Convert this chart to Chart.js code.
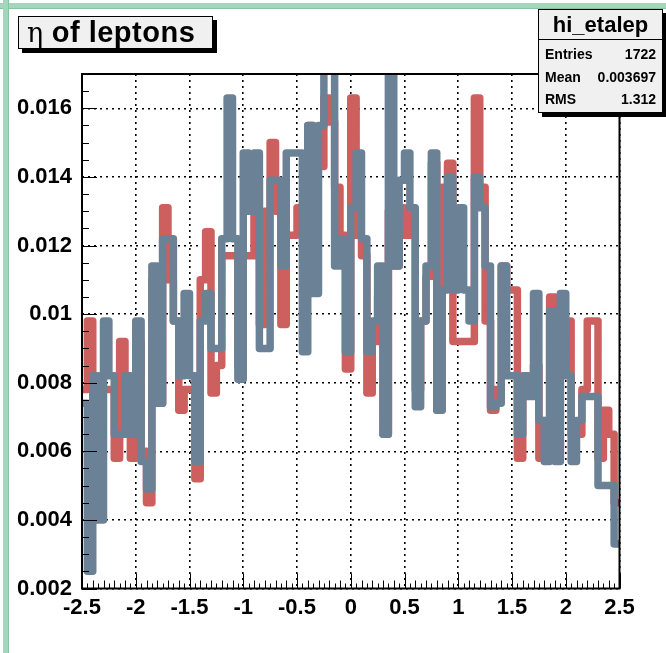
<!DOCTYPE html>
<html>
<head>
<meta charset="utf-8">
<script src="https://cdn.jsdelivr.net/npm/chart.js@4.4.0/dist/chart.umd.min.js"></script>
<style>
  html, body { margin: 0; padding: 0; background: #fff; }
  #wrap { position: relative; width: 666px; height: 653px; overflow: hidden; background: #fff; }
  #c { position: absolute; left: 0; top: 0; }
  .edge-top { position: absolute; left: 0; top: 3px; width: 666px; height: 5px; background: #a3d6ba; border-bottom: 1px solid #86c4a2; }
  .edge-left { position: absolute; left: 3px; top: 0; width: 5px; height: 653px; background: #a3d6ba; border-right: 1px solid #86c4a2; }
  .title-box {
    position: absolute; left: 18px; top: 16px; width: 195px; height: 33px; box-sizing: border-box;
    background: #f0f0f0; border: 1px solid #000; box-shadow: 4px 4px 0 #000;
    font: bold 29px "Liberation Sans", Arial, sans-serif; line-height: 30px; padding-left: 8px; color: #000;
    white-space: nowrap; letter-spacing: 0.5px;
  }
  .title-box .greek { font-family: "DejaVu Serif", "Liberation Serif", serif; font-weight: normal; font-size: 27px; letter-spacing: 0; }
  .stats-box {
    position: absolute; left: 538px; top: 9px; width: 125px; height: 104px; box-sizing: border-box;
    background: #f0f0f0; border: 1px solid #000; box-shadow: 4px 4px 0 #000;
    font-family: "Liberation Sans", Arial, sans-serif; color: #000;
  }
  .stats-head { height: 29px; border-bottom: 1px solid #000; text-align: center; font: bold 22px "Liberation Sans", Arial, sans-serif; line-height: 30px; }
  .stats-row { display: flex; justify-content: space-between; padding: 0 6px 0 6px; font: bold 14px "Liberation Sans", Arial, sans-serif; height: 22.5px; line-height: 22.5px; }
</style>
</head>
<body>
<div id="wrap">
  <canvas id="c" width="666" height="653"></canvas>
  <div class="edge-top"></div>
  <div class="edge-left"></div>
  <div class="title-box"><span class="greek">η</span> of leptons</div>
  <div class="stats-box">
    <div class="stats-head">hi_etalep</div>
    <div class="stats-row" style="margin-top:3px"><span>Entries</span><span>1722</span></div>
    <div class="stats-row"><span>Mean</span><span>0.003697</span></div>
    <div class="stats-row"><span>RMS</span><span>1.312</span></div>
  </div>
</div>
<script>
// Histogram binning: 100 bins of eta between -2.5 and 2.5
const etaLow = -2.5;
const etaHigh = 2.5;
const nBins = 100;

// Normalised bin contents, one entry per eta bin (left to right)
const etaLepA = [
  0.0074, 0.0025, 0.0082, 0.0040, 0.0098, 0.0082, 0.0065, 0.0065, 0.0082, 0.0065,
  0.0098, 0.0057, 0.0049, 0.0114, 0.0074, 0.0122, 0.0122, 0.0098, 0.0082, 0.0106,
  0.0082, 0.0057, 0.0098, 0.0106, 0.0090, 0.0090, 0.0122, 0.0163, 0.0122, 0.0081,
  0.0147, 0.0130, 0.0147, 0.0090, 0.0090, 0.0139, 0.0139, 0.0114, 0.0147, 0.0147,
  0.0147, 0.0089, 0.0155, 0.0106, 0.0155, 0.0180, 0.0176, 0.0114, 0.0122, 0.0089,
  0.0131, 0.0147, 0.0122, 0.0089, 0.0098, 0.0114, 0.0065, 0.0178, 0.0114, 0.0139,
  0.0147, 0.0131, 0.0073, 0.0098, 0.0114, 0.0147, 0.0072, 0.0107, 0.0140, 0.0107,
  0.0131, 0.0107, 0.0098, 0.0140, 0.0131, 0.0114, 0.0073, 0.0074, 0.0114, 0.0082,
  0.0082, 0.0065, 0.0082, 0.0076, 0.0106, 0.0069, 0.0057, 0.0101, 0.0057, 0.0106,
  0.0082, 0.0057, 0.0069, 0.0076, 0.0076, 0.0076, 0.0050, 0.0050, 0.0050, 0.0033
];
const etaLepB = [
  0.0078, 0.0098, 0.0078, 0.0078, 0.0078, 0.0078, 0.0058, 0.0092, 0.0065, 0.0058,
  0.0092, 0.0060, 0.0045, 0.0110, 0.0074, 0.0131, 0.0110, 0.0098, 0.0072, 0.0078,
  0.0078, 0.0052, 0.0110, 0.0124, 0.0077, 0.0085, 0.0117, 0.0117, 0.0117, 0.0085,
  0.0117, 0.0117, 0.0139, 0.0097, 0.0130, 0.0150, 0.0130, 0.0097, 0.0123, 0.0123,
  0.0131, 0.0123, 0.0155, 0.0143, 0.0143, 0.0163, 0.0156, 0.0137, 0.0123, 0.0084,
  0.0163, 0.0123, 0.0117, 0.0077, 0.0092, 0.0105, 0.0065, 0.0130, 0.0114, 0.0131,
  0.0123, 0.0129, 0.0078, 0.0098, 0.0111, 0.0144, 0.0072, 0.0137, 0.0144, 0.0092,
  0.0092, 0.0092, 0.0092, 0.0163, 0.0137, 0.0098, 0.0072, 0.0078, 0.0114, 0.0107,
  0.0107, 0.0058, 0.0078, 0.0078, 0.0085, 0.0058, 0.0069, 0.0105, 0.0058, 0.0090,
  0.0098, 0.0065, 0.0065, 0.0078, 0.0098, 0.0098, 0.0058, 0.0072, 0.0065, 0.0045
];

// Axis ticks
const xTickValues = [-2.5, -2, -1.5, -1, -0.5, 0, 0.5, 1, 1.5, 2, 2.5];
const xTickLabels = ['-2.5', '-2', '-1.5', '-1', '-0.5', '0', '0.5', '1', '1.5', '2', '2.5'];
const yTickValues = [0.002, 0.004, 0.006, 0.008, 0.010, 0.012, 0.014, 0.016];
const yTickLabels = ['0.002', '0.004', '0.006', '0.008', '0.01', '0.012', '0.014', '0.016'];
const yMin = 0.002;
const yMax = 0.017;

// Step outline: one point per bin low edge, plus the upper edge of the last bin
function histPoints(contents) {
  const w = (etaHigh - etaLow) / nBins;
  const pts = contents.map((v, i) => ({ x: etaLow + i * w, y: v }));
  pts.push({ x: etaHigh, y: contents[contents.length - 1] });
  return pts;
}

const tickFont = { family: '"Liberation Sans", Arial, sans-serif', size: 22, weight: 'bold' };

// Frame around the pad plus inward major/minor tick marks (ROOT style)
const frameTicks = {
  id: 'frameTicks',
  afterDatasetsDraw(chart) {
    const { ctx, chartArea: a, scales: { x, y } } = chart;
    ctx.save();
    ctx.strokeStyle = '#000';
    ctx.lineWidth = 1;
    ctx.beginPath();
    for (let k = 0; k <= 100; k++) {
      const v = etaLow + k * 0.05;
      const px = Math.round(x.getPixelForValue(v)) + 0.5;
      const len = (k % 10 === 0) ? 15 : (k % 2 === 0 ? 8 : 5);
      ctx.moveTo(px, a.bottom);
      ctx.lineTo(px, a.bottom - len);
    }
    for (let k = 0; k <= 30; k++) {
      const v = yMin + k * 0.0005;
      const py = Math.round(y.getPixelForValue(v)) + 0.5;
      const len = (k % 4 === 0) ? 15 : 7;
      ctx.moveTo(a.left, py);
      ctx.lineTo(a.left + len, py);
    }
    ctx.stroke();
    ctx.lineWidth = 2;
    ctx.strokeRect(a.left, a.top, a.right - a.left, a.bottom - a.top);
    ctx.restore();
  }
};

const lineStyle = {
  borderWidth: 7.5,
  stepped: 'before',
  pointRadius: 0,
  fill: false,
  clip: 0,
  borderCapStyle: 'round',
  borderJoinStyle: 'round'
};

new Chart(document.getElementById('c'), {
  type: 'line',
  data: {
    datasets: [
      Object.assign({ label: 'etaLepA', data: histPoints(etaLepA), borderColor: '#6b8296', order: 0 }, lineStyle),
      Object.assign({ label: 'etaLepB', data: histPoints(etaLepB), borderColor: '#cd5f5f', order: 1 }, lineStyle)
    ]
  },
  options: {
    responsive: false,
    animation: false,
    devicePixelRatio: 1,
    parsing: false,
    layout: { padding: { left: 0, top: 74, right: 46.5, bottom: 0 } },
    plugins: { legend: { display: false }, tooltip: { enabled: false }, title: { display: false } },
    scales: {
      x: {
        type: 'linear',
        min: etaLow,
        max: etaHigh,
        afterBuildTicks: s => { s.ticks = xTickValues.map(v => ({ value: v })); },
        afterFit: s => { s.height = 64.5; },
        ticks: {
          autoSkip: false, maxRotation: 0, color: '#000', font: tickFont, padding: 6,
          callback: (v, i) => xTickLabels[i]
        },
        grid: { color: '#000', lineWidth: 1.6, drawTicks: false },
        border: { display: false, dash: [2, 4] }
      },
      y: {
        type: 'linear',
        min: yMin,
        max: yMax,
        afterBuildTicks: s => { s.ticks = yTickValues.map(v => ({ value: v })); },
        afterFit: s => { s.width = 82; },
        ticks: {
          autoSkip: false, color: '#000', font: tickFont, padding: 10,
          callback: (v, i) => yTickLabels[i]
        },
        grid: { color: '#000', lineWidth: 1.6, drawTicks: false },
        border: { display: false, dash: [2, 4] }
      }
    }
  },
  plugins: [frameTicks]
});
</script>
</body>
</html>
